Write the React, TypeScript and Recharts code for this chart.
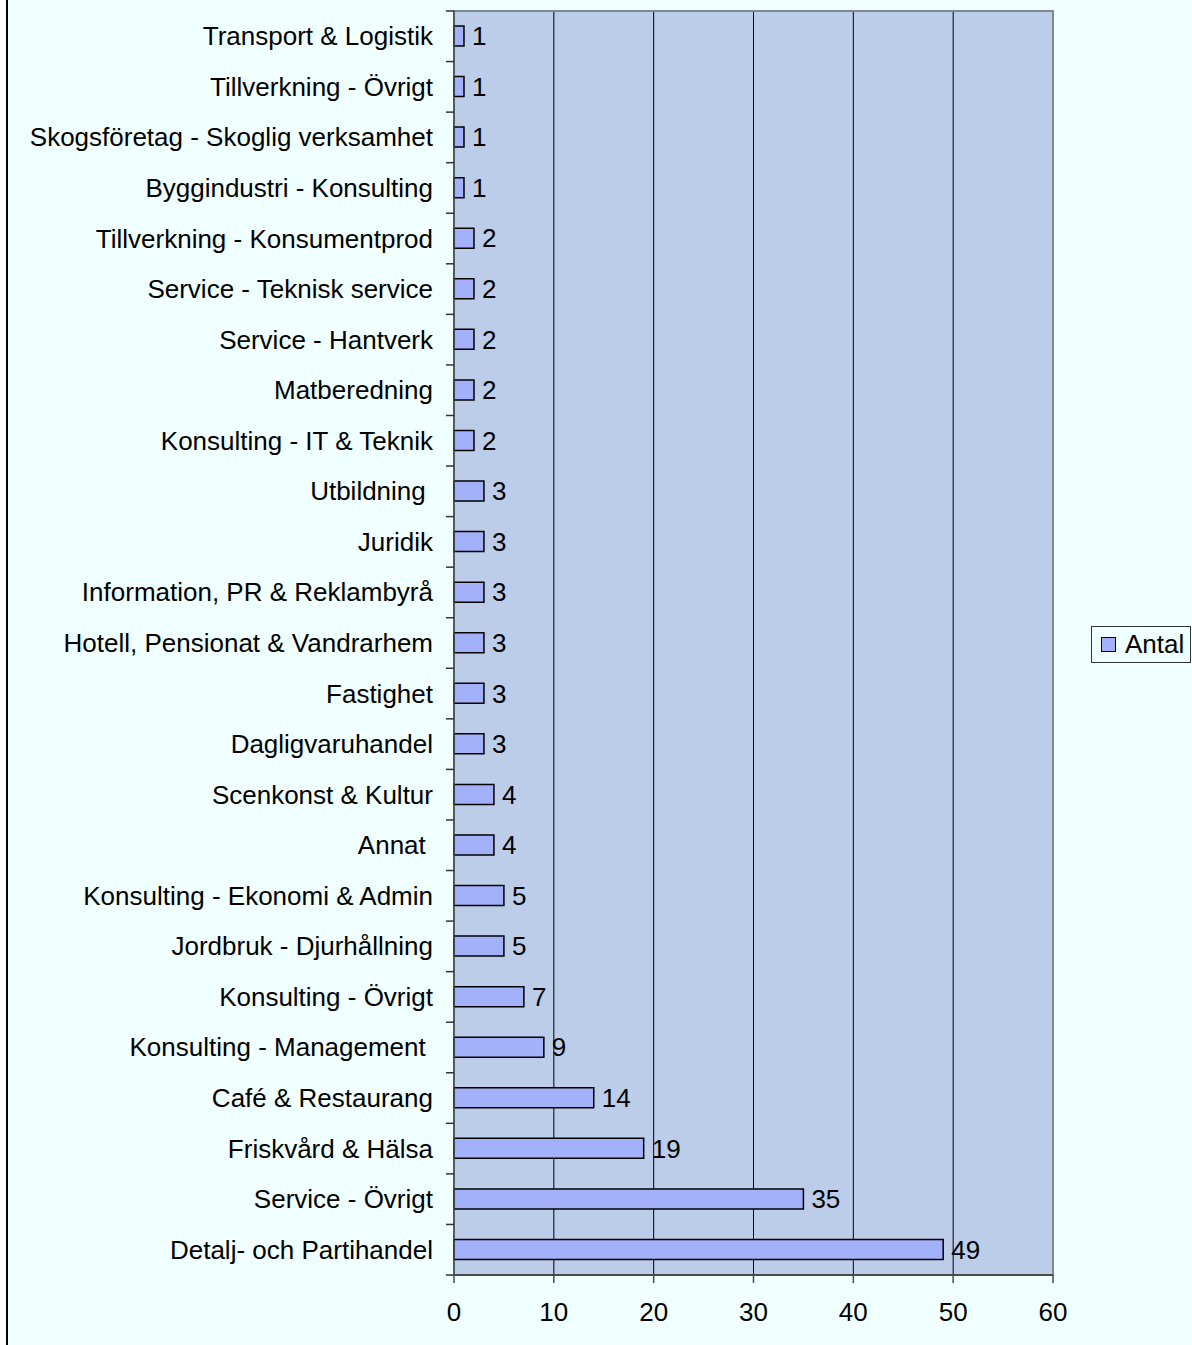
import React from 'react';
import { BarChart, Bar, XAxis, YAxis, CartesianGrid, Legend, LabelList, ReferenceArea } from 'recharts';

const categories = [
  'Transport & Logistik',
  'Tillverkning - Övrigt',
  'Skogsföretag - Skoglig verksamhet',
  'Byggindustri - Konsulting',
  'Tillverkning - Konsumentprod',
  'Service - Teknisk service',
  'Service - Hantverk',
  'Matberedning',
  'Konsulting - IT & Teknik',
  'Utbildning ',
  'Juridik',
  'Information, PR & Reklambyrå',
  'Hotell, Pensionat & Vandrarhem',
  'Fastighet',
  'Dagligvaruhandel',
  'Scenkonst & Kultur',
  'Annat ',
  'Konsulting - Ekonomi & Admin',
  'Jordbruk - Djurhållning',
  'Konsulting - Övrigt',
  'Konsulting - Management ',
  'Café & Restaurang',
  'Friskvård & Hälsa',
  'Service - Övrigt',
  'Detalj- och Partihandel',
];

const antal = [1, 1, 1, 1, 2, 2, 2, 2, 2, 3, 3, 3, 3, 3, 3, 4, 4, 5, 5, 7, 9, 14, 19, 35, 49];

const xTicks = [0, 10, 20, 30, 40, 50, 60];

const data = categories.map((name, i) => ({ name, Antal: antal[i] }));

const W = 1192;
const H = 1345;
const TOP = 11;
const BOTTOM = 1275;
const AXIS_X = 454;
const BAND = (BOTTOM - TOP) / categories.length;
const FONT = 'Liberation Sans, Arial, Helvetica, sans-serif';
const FS = 26;

const YTick = (props: any) => {
  const { y, payload, index } = props;
  return (
    <g>
      <text
        x={AXIS_X - 21}
        y={y}
        textAnchor="end"
        dominantBaseline="central"
        fontSize={FS}
        fontFamily={FONT}
        fill="#000"
        style={{ whiteSpace: 'pre' }}
      >
        {payload.value}
      </text>
      <line x1={AXIS_X - 8} x2={AXIS_X} y1={y + BAND / 2} y2={y + BAND / 2} stroke="#333" strokeWidth={1.5} />
      {index === 0 && (
        <line x1={AXIS_X - 8} x2={AXIS_X} y1={y - BAND / 2} y2={y - BAND / 2} stroke="#333" strokeWidth={1.5} />
      )}
    </g>
  );
};

const LegendBox = () => (
  <div
    style={{
      width: 100,
      height: 37,
      border: '1px solid #333',
      background: '#F0FFFF',
      display: 'flex',
      alignItems: 'center',
      fontFamily: FONT,
      fontSize: FS,
      boxSizing: 'border-box',
    }}
  >
    <span
      style={{
        display: 'inline-block',
        width: 13,
        height: 13,
        background: '#A3B1FA',
        border: '1px solid #000',
        marginLeft: 9,
        marginRight: 9,
      }}
    />
    <span>Antal</span>
  </div>
);

export default function App() {
  return (
    <div style={{ position: 'absolute', left: 0, top: 0, width: W, height: H, background: '#F0FFFF' }}>
      <div style={{ position: 'absolute', left: 0, top: 0, width: 6, height: H, background: '#fff' }} />
      <div style={{ position: 'absolute', left: 6, top: 0, width: 2, height: H, background: '#000' }} />
      <BarChart
        width={W}
        height={H}
        data={data}
        layout="vertical"
        margin={{ top: TOP, right: 39, bottom: 0, left: 0 }}
        barCategoryGap={0}
      >
        <CartesianGrid horizontal={false} stroke="#000" strokeWidth={1} fill="#BCCDEA" fillOpacity={1} />
        <ReferenceArea x1={0} x2={60} fill="none" stroke="#7f8796" strokeWidth={2} />
        <XAxis
          type="number"
          domain={[0, 60]}
          ticks={xTicks}
          height={70}
          tickSize={8}
          tickMargin={20}
          axisLine={{ stroke: '#4a4a4a', strokeWidth: 2 }}
          tickLine={{ stroke: '#4a4a4a', strokeWidth: 1.5 }}
          tick={{ fontSize: FS, fill: '#000', fontFamily: FONT }}
        />
        <YAxis
          type="category"
          dataKey="name"
          width={AXIS_X}
          tickLine={false}
          axisLine={{ stroke: '#4a4a4a', strokeWidth: 1.5 }}
          tick={<YTick />}
          interval={0}
        />
        <Legend
          layout="vertical"
          align="right"
          verticalAlign="middle"
          content={<LegendBox />}
          wrapperStyle={{ left: 1091, top: 626, width: 100 }}
        />
        <Bar dataKey="Antal" fill="#A3B1FA" stroke="#000" strokeWidth={1.5} barSize={20} isAnimationActive={false}>
          <LabelList dataKey="Antal" position="right" offset={8} fill="#000" fontSize={FS} fontFamily={FONT} />
        </Bar>
      </BarChart>
    </div>
  );
}
